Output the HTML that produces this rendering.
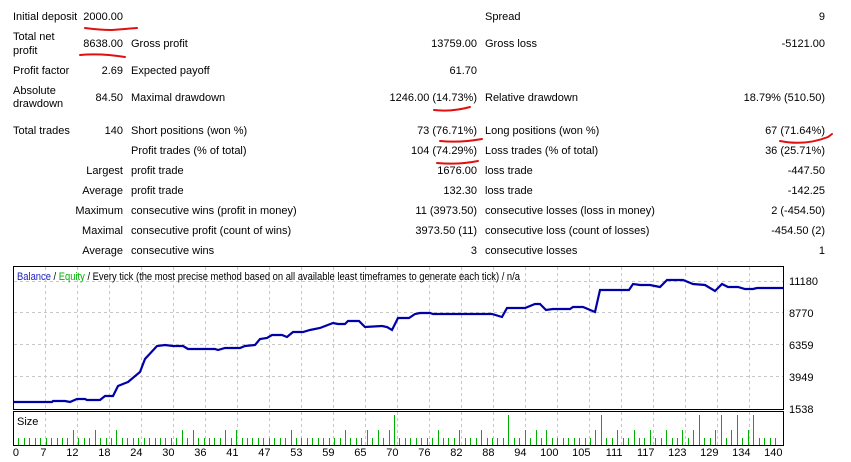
<!DOCTYPE html>
<html><head><meta charset="utf-8"><style>
body{margin:0;width:851px;height:462px;background:#fff;overflow:hidden;position:relative;font-family:"Liberation Sans",sans-serif;font-size:11px;color:#000}
.t{position:absolute;white-space:nowrap;line-height:13px}
.r{text-align:right}
</style></head><body>
<div id="txt"></div>
<svg width="851" height="462" style="position:absolute;left:0;top:0" id="s">
<g fill="none" stroke="#e01010" stroke-width="2" stroke-linecap="round">
<path d="M85,28 Q100,30 112,30 Q125,29 137,28"/>
<path d="M80,55 Q100,53 125,57"/>
<path d="M434,110 Q452,112 470,107"/>
<path d="M440,141 Q460,143 482,139"/>
<path d="M437,163 Q458,165 478,161"/>
<path d="M780,141 Q805,146 828,137 L832,134"/>
</g>
<rect x="13.5" y="266.5" width="770" height="143" fill="none" stroke="#000"/>
<rect x="13.5" y="411.5" width="770" height="34" fill="none" stroke="#000"/>
<g id="grid" stroke="#c8c8c8" stroke-dasharray="3,3" stroke-width="1"></g>
<g id="bars" stroke="#00b000" stroke-width="1"></g>
<polyline fill="none" stroke="#0000a8" stroke-width="2.2" points="14,402 52,402 53,401 65,401 70,402 77,399 85,399 87,400 100,400 105,396 113,396 118,386 128,382 140,372 145,359 157,346 165,345 173,346 183,346 188,349 212,349 215,349 218,350 225,348 240,348 245,346 255,345 260,339 267,338 272,335 282,335 287,337 293,332 303,332 310,330 320,328 333,323 338,324 345,324 348,321 359,321 365,327 382,326 387,327 392,330 398,318 409,318 415,314 420,313 430,313 433,314 447,314 492,314 502,317 507,308 525,308 535,304 540,304 546,310 553,309 570,309 573,307 583,307 595,312 600,290 629,290 633,284 640,285 650,285 660,287 667,280 683,280 693,284 705,285 715,291 722,284 728,287 738,287 745,289 753,289 757,288 783,288"/>
<text x="17" y="280" font-family="Liberation Sans,sans-serif" font-size="11" textLength="503" lengthAdjust="spacingAndGlyphs"><tspan fill="#2020c0">Balance</tspan><tspan fill="#000"> / </tspan><tspan fill="#00b000">Equity</tspan><tspan fill="#000"> / Every tick (the most precise method based on all available least timeframes to generate each tick) / n/a</tspan></text>
<text x="17" y="425" font-family="Liberation Sans,sans-serif" font-size="11">Size</text>
<g font-family="Liberation Sans,sans-serif" font-size="11" id="yl">
<text x="789" y="285">11180</text><text x="789" y="317">8770</text><text x="789" y="349">6359</text><text x="789" y="381">3949</text><text x="789" y="413">1538</text>
</g>
<g font-family="Liberation Sans,sans-serif" font-size="11" id="xl" text-anchor="end"></g>
</svg>
<script>
var T=[
[13,11,"Initial deposit",0],[123,11,"2000.00",1],[485,11,"Spread",0],[825,11,"9",1],
[13,31,"Total net",0],[13,45,"profit",0],[123,38,"8638.00",1],[131,38,"Gross profit",0],[477,38,"13759.00",1],[485,38,"Gross loss",0],[825,38,"-5121.00",1],
[13,65,"Profit factor",0],[123,65,"2.69",1],[131,65,"Expected payoff",0],[477,65,"61.70",1],
[13,85,"Absolute",0],[13,98,"drawdown",0],[123,92,"84.50",1],[131,92,"Maximal drawdown",0],[477,92,"1246.00 (14.73%)",1],[485,92,"Relative drawdown",0],[825,92,"18.79% (510.50)",1],
[13,125,"Total trades",0],[123,125,"140",1],[131,125,"Short positions (won %)",0],[477,125,"73 (76.71%)",1],[485,125,"Long positions (won %)",0],[825,125,"67 (71.64%)",1],
[131,145,"Profit trades (% of total)",0],[477,145,"104 (74.29%)",1],[485,145,"Loss trades (% of total)",0],[825,145,"36 (25.71%)",1],
[123,165,"Largest",1],[131,165,"profit trade",0],[477,165,"1676.00",1],[485,165,"loss trade",0],[825,165,"-447.50",1],
[123,185,"Average",1],[131,185,"profit trade",0],[477,185,"132.30",1],[485,185,"loss trade",0],[825,185,"-142.25",1],
[123,205,"Maximum",1],[131,205,"consecutive wins (profit in money)",0],[477,205,"11 (3973.50)",1],[485,205,"consecutive losses (loss in money)",0],[825,205,"2 (-454.50)",1],
[123,225,"Maximal",1],[131,225,"consecutive profit (count of wins)",0],[477,225,"3973.50 (11)",1],[485,225,"consecutive loss (count of losses)",0],[825,225,"-454.50 (2)",1],
[123,245,"Average",1],[131,245,"consecutive wins",0],[477,245,"3",1],[485,245,"consecutive losses",0],[825,245,"1",1]];
var h="";T.forEach(function(a){h+=a[3]?'<div class="t r" style="right:'+(851-a[0])+'px;top:'+a[1]+'px">'+a[2]+'</div>':'<div class="t" style="left:'+a[0]+'px;top:'+a[1]+'px">'+a[2]+'</div>';});
document.getElementById("txt").innerHTML=h;
var ns="http://www.w3.org/2000/svg",g=document.getElementById("grid"),b=document.getElementById("bars"),xl=document.getElementById("xl");
function L(p,x1,y1,x2,y2){var l=document.createElementNS(ns,"line");l.setAttribute("x1",x1);l.setAttribute("y1",y1);l.setAttribute("x2",x2);l.setAttribute("y2",y2);p.appendChild(l);}
[281.5,312.5,344.5,376.5].forEach(function(y){L(g,14,y,783,y);});
var labs=[0,7,12,18,24,30,36,41,47,53,59,65,70,76,82,88,94,100,105,111,117,123,129,134,140];
for(var k=0;k<labs.length;k++){var x=13.5+32*k;if(k>0&&k<24){L(g,x,267,x,409);L(g,x,412,x,445);}
var t=document.createElementNS(ns,"text");t.setAttribute("x",k==0?19:x+1);t.setAttribute("y",456);t.textContent=labs[k];xl.appendChild(t);}
var med=[11,15,19,31,33,39,41,51,61,65,67,69,78,82,86,94,96,98,107,111,114,117,120,123,125,129,132,135],tall=[70,91,108,126,130,133,136];
for(var i=1;i<=140;i++){var bx=Math.round(13+5.443*i)+0.5,by=438;if(med.indexOf(i)>=0)by=430;if(tall.indexOf(i)>=0)by=415;L(b,bx,by,bx,445);}
</script>
</body></html>
